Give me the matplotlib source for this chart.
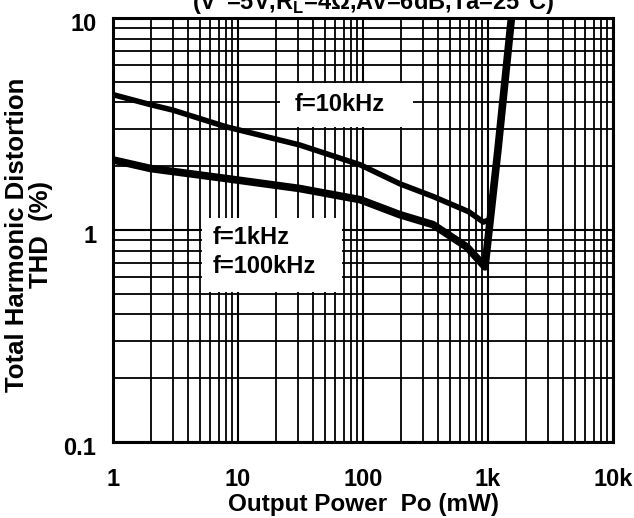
import matplotlib
matplotlib.use("Agg")
import matplotlib.pyplot as plt
import matplotlib.transforms as mtransforms
from matplotlib.patches import Rectangle
from matplotlib.ticker import FixedLocator, FixedFormatter, LogLocator, NullFormatter

plt.rcParams['font.family'] = ['Liberation Sans', 'DejaVu Sans']
plt.rcParams['font.weight'] = 'bold'
plt.rcParams['mathtext.fontset'] = 'custom'
plt.rcParams['mathtext.rm'] = 'Liberation Sans:bold'
plt.rcParams['mathtext.it'] = 'Liberation Sans:bold'
plt.rcParams['mathtext.bf'] = 'Liberation Sans:bold'

# ---- data ----
po_10k = [1, 2, 3, 8, 31, 95, 198, 363, 700, 918, 1037, 1200, 1600]
thd_10k = [4.35, 3.9, 3.68, 3.07, 2.52, 2.03, 1.65, 1.44, 1.22, 1.09, 1.12, 2.38, 12.5]

po_1k_100k = [1, 2, 8, 31, 95, 198, 363, 680, 946, 1200, 1600]
thd_1k_100k = [2.14, 1.95, 1.75, 1.57, 1.39, 1.18, 1.06, 0.83, 0.67, 2.38, 12.5]

x_ticks = [1, 10, 100, 1000, 10000]
x_ticklabels = ["1", "10", "100", "1k", "10k"]
y_ticks = [0.1, 1, 10]
y_ticklabels = ["0.1", "1", "10"]

title = "(V$^{+}$=5V,R$_{\\mathrm{L}}$=4Ω,Av=6dB,Ta=25°C)"
label_10k = "f=10kHz"
label_1k = "f=1kHz"
label_100k = "f=100kHz"

W, H = 634, 518
fig = plt.figure(figsize=(W / 100, H / 100), dpi=100)
L, R, T, B = 113, 613, 18, 442
ax = fig.add_axes([L / W, 1 - B / H, (R - L) / W, (B - T) / H])

ax.set_xscale('log')
ax.set_yscale('log')
ax.set_xlim(1, 10000)
ax.set_ylim(0.1, 10)

ax.xaxis.set_major_locator(FixedLocator(x_ticks))
ax.xaxis.set_major_formatter(FixedFormatter(x_ticklabels))
ax.yaxis.set_major_locator(FixedLocator(y_ticks))
ax.yaxis.set_major_formatter(FixedFormatter(y_ticklabels))
ax.xaxis.set_minor_locator(LogLocator(base=10, subs=range(2, 10)))
ax.yaxis.set_minor_locator(LogLocator(base=10, subs=range(2, 10)))
ax.xaxis.set_minor_formatter(NullFormatter())
ax.yaxis.set_minor_formatter(NullFormatter())

ax.tick_params(which='both', length=0)
ax.tick_params(axis='x', pad=18.5, labelsize=17)
ax.tick_params(axis='y', pad=12, labelsize=17)
off = mtransforms.ScaledTranslation(0, -4 / 100, fig.dpi_scale_trans)
for lab in ax.get_yticklabels():
    lab.set_transform(lab.get_transform() + off)
    lab.set_fontweight('bold')
for lab in ax.get_xticklabels():
    lab.set_fontweight('bold')

ax.grid(True, which='major', color='black', linewidth=1.5, zorder=1)
ax.grid(True, which='minor', color='black', linewidth=1.3, zorder=1)
ax.set_axisbelow(True)
for sp in ax.spines.values():
    sp.set_linewidth(2.2)
    sp.set_color('black')
    sp.set_zorder(5)

# white label boxes hiding the grid
ax.add_patch(Rectangle((0.334, 0.743), 0.266, 0.104, transform=ax.transAxes,
                       facecolor='white', edgecolor='none', zorder=2))
ax.add_patch(Rectangle((0.178, 0.354), 0.280, 0.174, transform=ax.transAxes,
                       facecolor='white', edgecolor='none', zorder=2))

ax.plot(po_10k, thd_10k, color='black', lw=4.0, solid_joinstyle='round',
        solid_capstyle='round', zorder=3)
ax.plot(po_1k_100k, thd_1k_100k, color='black', lw=5.5, solid_joinstyle='round',
        solid_capstyle='round', zorder=3)

ax.text(0.454, 0.795, label_10k, transform=ax.transAxes, ha='center', va='center',
        fontsize=17, fontweight='bold', zorder=4)
ax.text(0.200, 0.482, label_1k, transform=ax.transAxes, ha='left', va='center',
        fontsize=17, fontweight='bold', zorder=4)
ax.text(0.200, 0.415, label_100k, transform=ax.transAxes, ha='left', va='center',
        fontsize=17, fontweight='bold', zorder=4)

fig.text(373 / W, 1 - 10 / H, title, ha='center', va='baseline',
         fontsize=17, fontweight='bold')
fig.text(29 / W, 1 - 235 / H, "Total Harmonic Distortion\nTHD  (%)", rotation=90,
         ha='center', va='center', multialignment='center', fontsize=18.5,
         fontweight='bold', linespacing=1.0)
fig.text(363 / W, 1 - 504 / H, "Output Power  Po (mW)", ha='center', va='center',
         fontsize=17.5, fontweight='bold')

fig.savefig("out.png", dpi=100, facecolor='white')
